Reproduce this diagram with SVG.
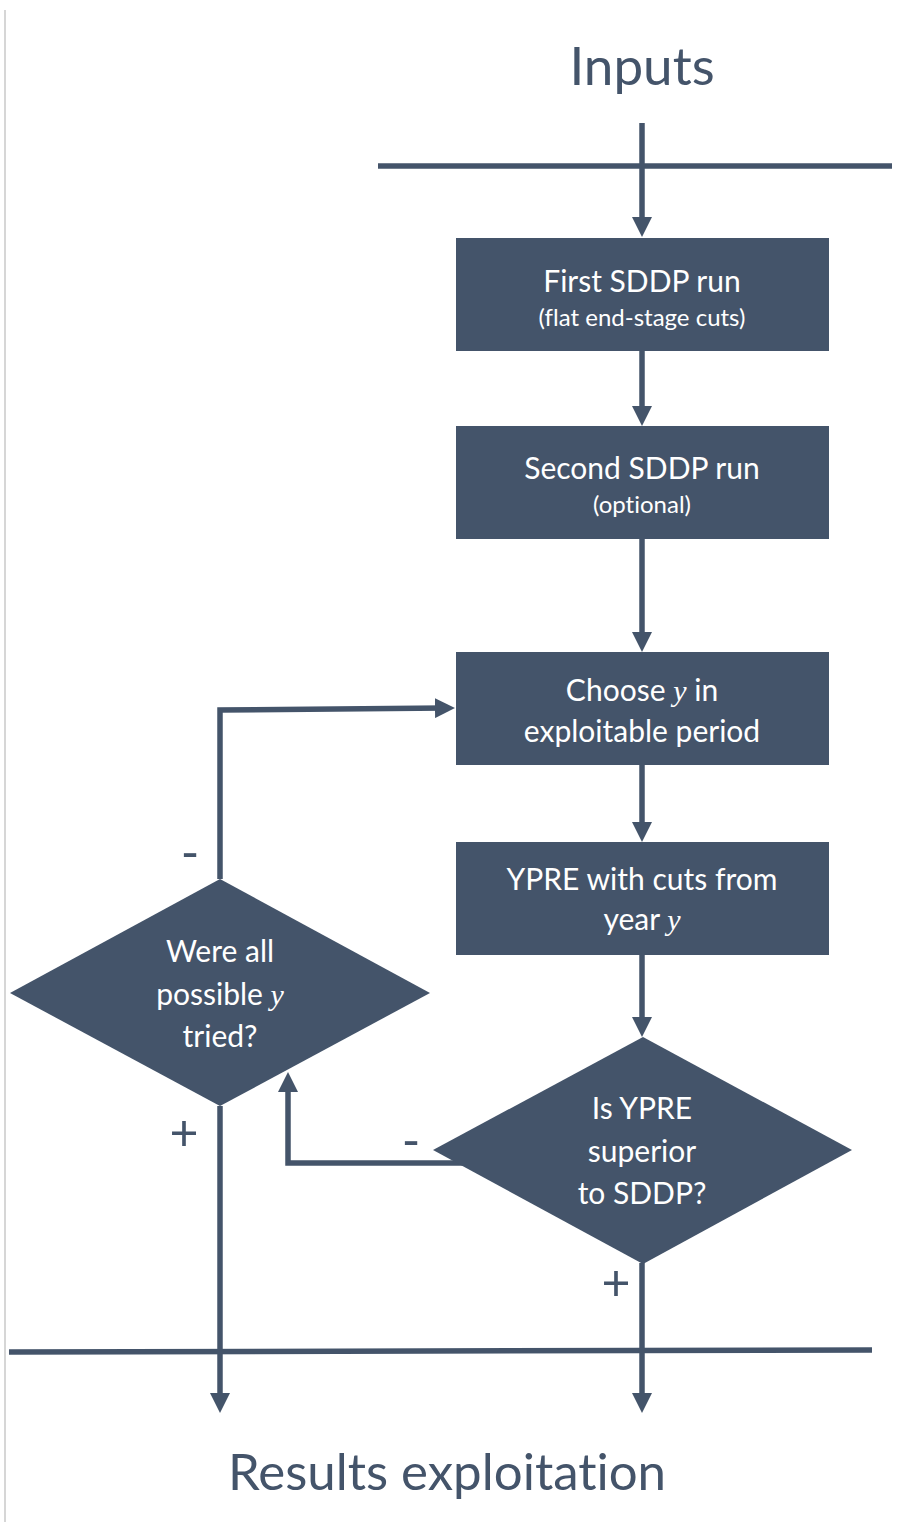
<svg xmlns="http://www.w3.org/2000/svg" width="902" height="1522" viewBox="0 0 902 1522">
<style>
.box{fill:#44546A;}
.bt{font-family:Lato,"Open Sans",sans-serif;fill:#FFFFFF;text-anchor:middle;font-variant-ligatures:none;}
.lbl{font-family:Lato,"Open Sans",sans-serif;fill:#44546A;text-anchor:middle;font-variant-ligatures:none;}
.con{stroke:#44546A;stroke-width:5.5;fill:none;}
.var{font-family:"Liberation Serif",serif;font-style:italic;}
</style>
<defs>
<marker id="arr" viewBox="0 0 20 20" markerWidth="20" markerHeight="20" refX="10" refY="10" orient="auto" markerUnits="userSpaceOnUse">
<path d="M0,0 L20,10 L0,20 z" fill="#44546A"/>
</marker>
</defs>
<rect width="902" height="1522" fill="#FFFFFF"/>
<line x1="5" y1="10" x2="5" y2="1522" stroke="#C8C8C8" stroke-width="1.5"/>
<g id="bars">
<line x1="378" y1="166" x2="892" y2="166" class="con"/>
<line x1="9" y1="1352" x2="872" y2="1350" class="con"/>
</g>
<g id="inputs"><text x="642" y="85" class="lbl" font-size="53">Inputs</text></g>
<g id="results"><text x="447" y="1490" class="lbl" font-size="51">Results exploitation</text></g>
<g id="connectors">
<line x1="642" y1="123" x2="642" y2="227" class="con" marker-end="url(#arr)"/>
<line x1="642" y1="351" x2="642" y2="416" class="con" marker-end="url(#arr)"/>
<line x1="642" y1="539" x2="642" y2="642" class="con" marker-end="url(#arr)"/>
<line x1="642" y1="765" x2="642" y2="832" class="con" marker-end="url(#arr)"/>
<line x1="642" y1="955" x2="642" y2="1027" class="con" marker-end="url(#arr)"/>
<line x1="642" y1="1263" x2="642" y2="1403" class="con" marker-end="url(#arr)"/>
<polyline points="463,1163 288,1163 288,1082" class="con" marker-end="url(#arr)"/>
<polyline points="220,879 220,710 445,708" class="con" marker-end="url(#arr)"/>
<line x1="220" y1="1106" x2="220" y2="1403" class="con" marker-end="url(#arr)"/>
<text x="190" y="870" class="lbl" font-size="50">-</text>
<text x="184" y="1150" class="lbl" font-size="50">+</text>
<text x="411" y="1158" class="lbl" font-size="50">-</text>
<text x="616" y="1300" class="lbl" font-size="50">+</text>
</g>
<g id="first-run">
<rect x="456" y="238" width="373" height="113" class="box"/>
<text x="642" y="292" class="bt" font-size="30">First SDDP run</text>
<text x="642" y="326" class="bt" font-size="24">(flat end-stage cuts)</text>
</g>
<g id="second-run">
<rect x="456" y="426" width="373" height="113" class="box"/>
<text x="642" y="479" class="bt" font-size="30">Second SDDP run</text>
<text x="642" y="513" class="bt" font-size="24">(optional)</text>
</g>
<g id="choose-y">
<rect x="456" y="652" width="373" height="113" class="box"/>
<text x="642" y="701" class="bt" font-size="30">Choose <tspan class="var">y</tspan> in</text>
<text x="642" y="742" class="bt" font-size="30">exploitable period</text>
</g>
<g id="ypre">
<rect x="456" y="842" width="373" height="113" class="box"/>
<text x="642" y="890" class="bt" font-size="30">YPRE with cuts from</text>
<text x="642" y="930" class="bt" font-size="30">year <tspan class="var">y</tspan></text>
</g>
<g id="superior">
<polygon points="643,1037 852,1150 643,1264 433,1150" class="box"/>
<text x="642" y="1119" class="bt" font-size="30">Is YPRE</text>
<text x="642" y="1162" class="bt" font-size="30">superior</text>
<text x="642" y="1204" class="bt" font-size="30">to SDDP?</text>
</g>
<g id="all-tried">
<polygon points="220,879 430,993 220,1106 10,993" class="box"/>
<text x="220" y="962" class="bt" font-size="30">Were all</text>
<text x="220" y="1005" class="bt" font-size="30">possible <tspan class="var">y</tspan></text>
<text x="220" y="1047" class="bt" font-size="30">tried?</text>
</g>
</svg>
